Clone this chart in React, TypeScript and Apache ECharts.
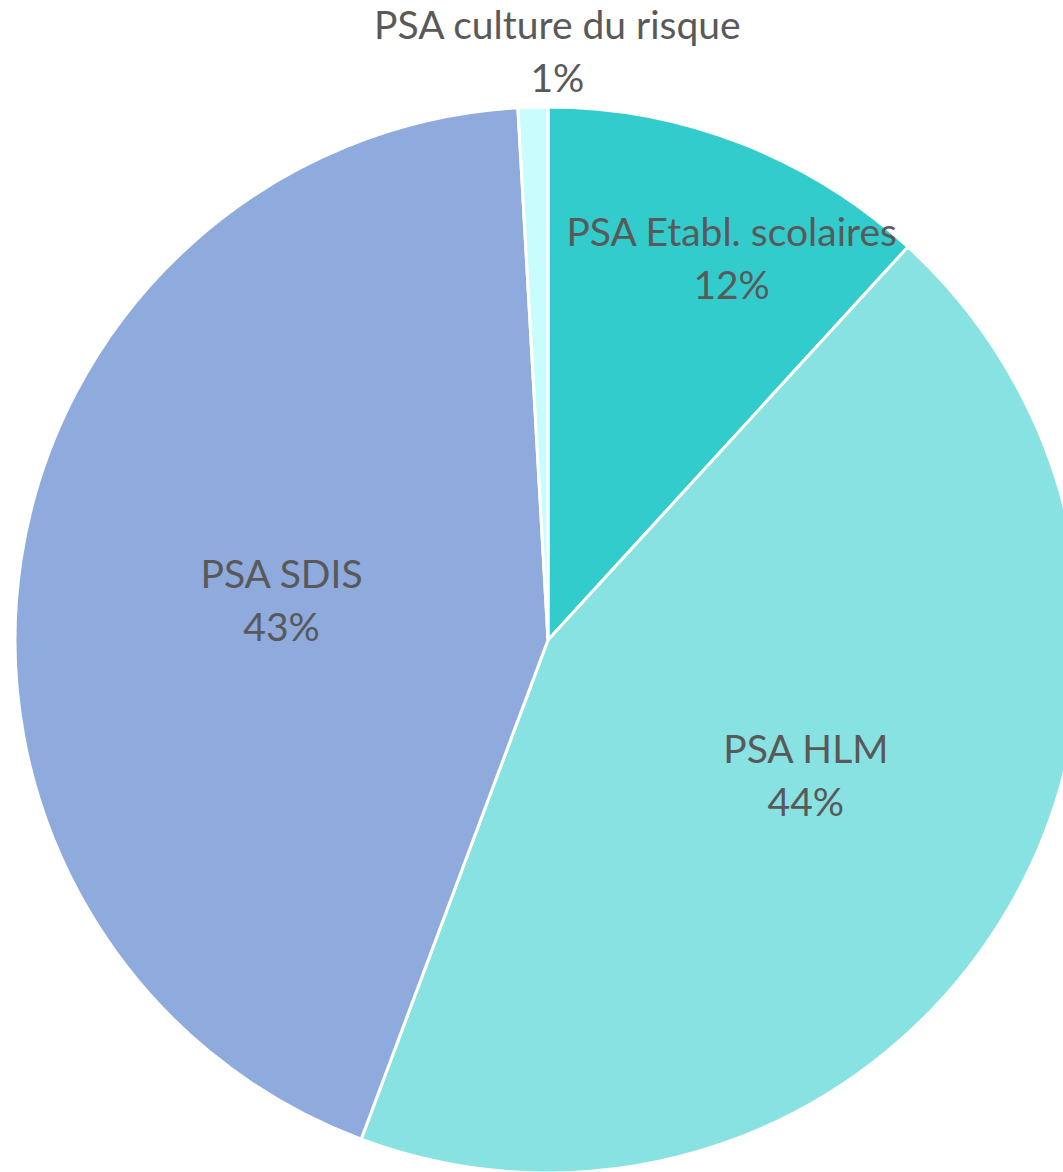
import React, { useEffect, useRef } from "react";
import * as echarts from "echarts";

const categories = [
  "PSA Etabl. scolaires",
  "PSA HLM",
  "PSA SDIS",
  "PSA culture du risque",
];
const values = [11.8, 43.9, 43.4, 0.9];
const colors = ["#33CCCC", "#88E2E2", "#8FAADC", "#C9FCFC"];
// label nudges relative to the default inside position
const labelShift = [
  [86, -131],
  [28, -6],
  [0, 0],
  [17, -320],
];

export default function App() {
  const ref = useRef<HTMLDivElement>(null);
  useEffect(() => {
    document.body.style.margin = "0";
    const chart = echarts.init(ref.current!, undefined, { renderer: "svg" });
    chart.setOption({
      animation: false,
      backgroundColor: "#ffffff",
      series: [
        {
          type: "pie",
          center: [548, 640],
          radius: [0, 533],
          startAngle: 90,
          clockwise: true,
          avoidLabelOverlap: false,
          itemStyle: { borderColor: "#ffffff", borderWidth: 3 },
          label: {
            show: true,
            position: "inside",
            color: "#595959",
            fontFamily: "Lato",
            fontSize: 39,
            lineHeight: 53,
            align: "center",
            formatter: (p: any) => `${p.name}\n${Math.round(p.percent)}%`,
          },
          labelLine: { show: false },
          labelLayout: (p: any) => ({
            dx: labelShift[p.dataIndex][0],
            dy: labelShift[p.dataIndex][1],
          }),
          data: categories.map((name, i) => ({
            name,
            value: values[i],
            itemStyle: { color: colors[i] },
          })),
        },
      ],
    });
    return () => chart.dispose();
  }, []);
  return (
    <div
      ref={ref}
      style={{ position: "absolute", left: 0, top: 0, width: 1063, height: 1172 }}
    />
  );
}
